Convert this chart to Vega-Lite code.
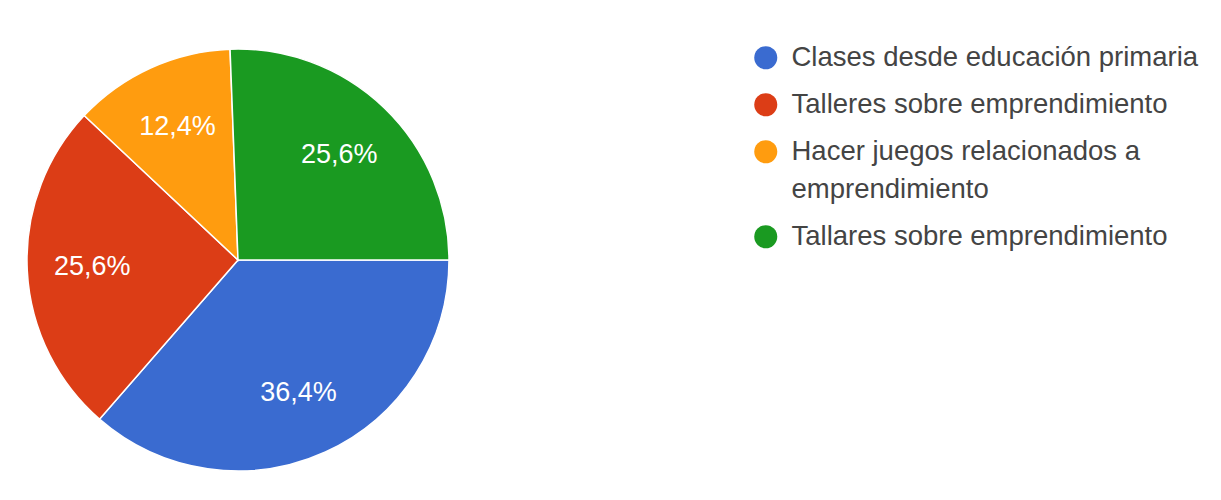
{
  "$schema": "https://vega.github.io/schema/vega-lite/v6.json",
  "width": 476,
  "height": 480,
  "padding": {"left": 0, "top": 20, "right": 745, "bottom": 0},
  "autosize": "none",
  "background": "white",
  "data": {
    "values": [
      {"respuesta": "Clases desde educación primaria", "share": 0.364, "idx": 1},
      {"respuesta": "Talleres sobre emprendimiento", "share": 0.256, "idx": 2},
      {"respuesta": "Hacer juegos relacionados a emprendimiento", "share": 0.124, "idx": 3},
      {"respuesta": "Tallares sobre emprendimiento", "share": 0.256, "idx": 4}
    ]
  },
  "encoding": {
    "theta": {"field": "share", "type": "quantitative", "stack": true, "scale": {"range": [1.5708, 7.854]}},
    "order": {"field": "idx", "type": "quantitative"}
  },
  "layer": [
    {
      "mark": {"type": "arc", "outerRadius": 211, "stroke": "white", "strokeWidth": 1.5},
      "encoding": {
        "color": {
          "field": "respuesta",
          "type": "nominal",
          "sort": ["Clases desde educación primaria", "Talleres sobre emprendimiento", "Hacer juegos relacionados a emprendimiento", "Tallares sobre emprendimiento"],
          "scale": {
            "domain": ["Clases desde educación primaria", "Talleres sobre emprendimiento", "Hacer juegos relacionados a emprendimiento", "Tallares sobre emprendimiento"],
            "range": ["#3a6bd0", "#dc3d16", "#ff9c0f", "#1a9a21"]
          },
          "legend": {
            "title": null,
            "orient": "none",
            "legendX": 752,
            "legendY": 24,
            "symbolType": "circle",
            "symbolSize": 530,
            "symbolStrokeWidth": 0,
            "labelFont": "Liberation Sans",
            "labelFontSize": 27.5,
            "labelColor": "#444444",
            "labelLimit": 600,
            "labelOffset": 12,
            "rowPadding": 18,
            "padding": 0,
            "labelExpr": "datum.label == 'Hacer juegos relacionados a emprendimiento' ? ['Hacer juegos relacionados a', 'emprendimiento'] : datum.label"
          }
        }
      }
    },
    {
      "mark": {"type": "text", "radius": 146, "font": "Liberation Sans", "fontSize": 27, "fill": "white"},
      "encoding": {
        "text": {"field": "share", "type": "quantitative", "format": ".1%"}
      }
    }
  ],
  "config": {
    "view": {"stroke": null},
    "style": {"guide-label": {"lineHeight": 38}},
    "locale": {"number": {"decimal": ",", "thousands": ".", "grouping": [3], "currency": ["", " €"]}}
  }
}
